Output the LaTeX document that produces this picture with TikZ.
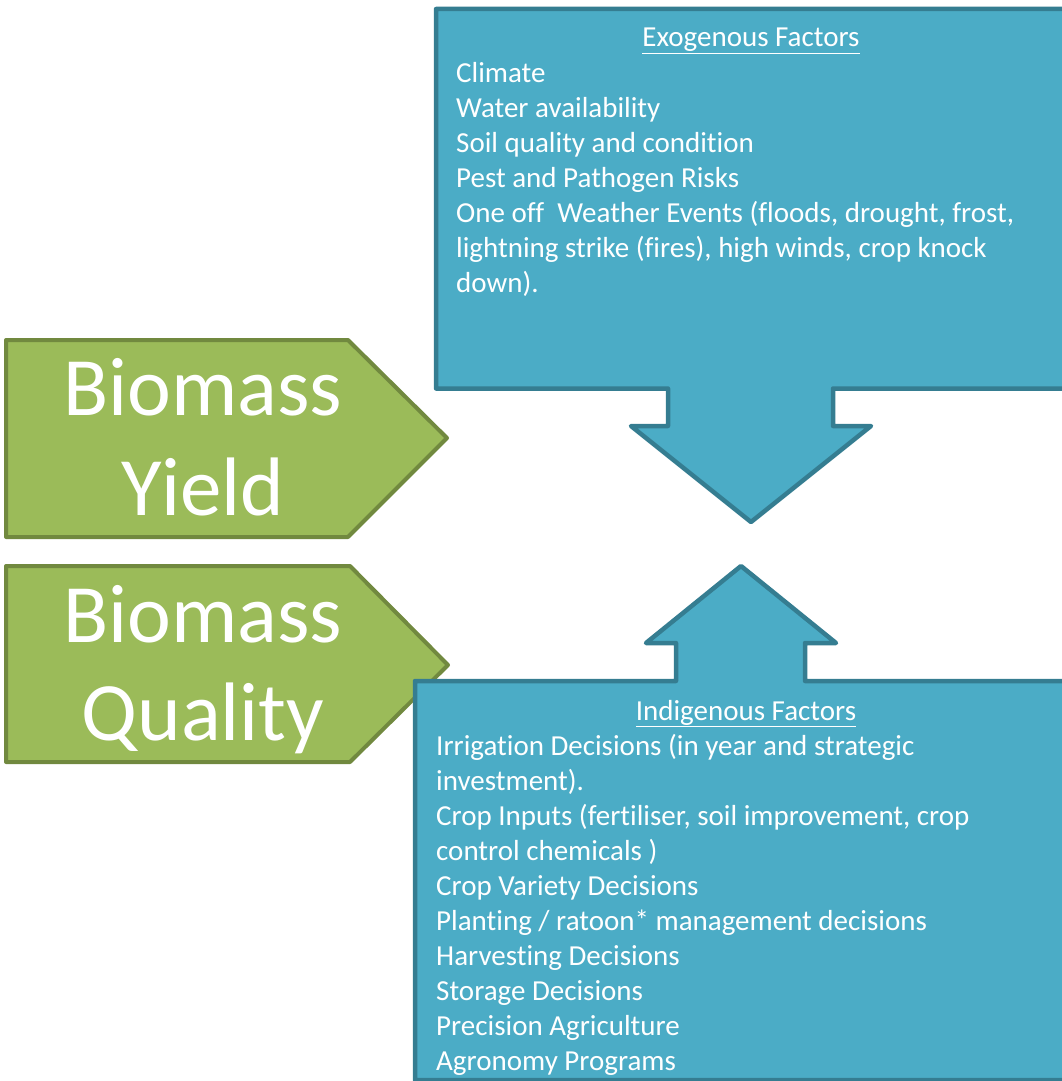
\documentclass[tikz,border=0pt]{standalone}
\usepackage{fontspec}
\setmainfont{Carlito}[Ligatures=NoCommon]
\definecolor{bluefill}{HTML}{4BACC6}
\definecolor{blueline}{HTML}{357D91}
\definecolor{greenfill}{HTML}{9BBB59}
\definecolor{greenline}{HTML}{71893F}
\tikzset{
  bluebox/.style={fill=bluefill, draw=blueline, line width=4.5pt, line join=round},
  greenbox/.style={fill=greenfill, draw=greenline, line width=4pt, line join=round},
  bigtext/.style={text=white, inner sep=0, anchor=base, font=\fontsize{83}{100}\selectfont},
  smalltext/.style={text=white, inner sep=0, anchor=base west, font=\fontsize{29}{35}\selectfont},
  headtext/.style={text=white, inner sep=0, anchor=base, font=\fontsize{29}{35}\selectfont},
}
\begin{document}
\begin{tikzpicture}[x=1pt, y=-1pt]
\useasboundingbox (0,0) rectangle (1062,1081);
\clip (0,0) rectangle (1062,1081);
% green labels
\draw[greenbox] (6,340) -- (348,340) -- (447,438) -- (348,537) -- (6,537) -- cycle;
\draw[greenbox] (6,566) -- (350,566) -- (448,665) -- (350,762) -- (6,762) -- cycle;
\node[bigtext] (y1) at (203,415) {Biomass};
\node[bigtext] (y2) at (203,515) {Yield};
\node[bigtext] (q1) at (203,642) {Biomass};
\node[bigtext] (q2) at (203,740) {Quality};
% top callout
\draw[bluebox] (436,9) -- (1075,9) -- (1075,388.5) -- (833,388.5) -- (833,426) -- (871,426)
  -- (751,522) -- (631,426) -- (668,426) -- (668,388.5) -- (436,388.5) -- cycle;
\node[headtext] (exoh) at (751,47) {\underline{Exogenous Factors}};
\foreach \t [count=\i] in {Climate, Water availability, Soil quality and condition,
  Pest and Pathogen Risks, {One off\ \ Weather Events (floods, drought, frost,},
  {lightning strike (fires), high winds, crop knock}, down).}
  \node[smalltext] (exo\i) at (456,{47+35*\i}) {\t};
% bottom callout
\draw[bluebox] (415,681) -- (676,681) -- (676,643) -- (646,643) -- (741,566) -- (836,643)
  -- (805,643) -- (805,681) -- (1075,681) -- (1075,1080) -- (415,1080) -- cycle;
\node[headtext] (indh) at (746,720) {\underline{Indigenous Factors}};
\foreach \t [count=\i] in {Irrigation Decisions (in year and strategic, investment).,
  {Crop Inputs (fertiliser, soil improvement, crop}, control chemicals ),
  Crop Variety Decisions, Planting / ratoon* management decisions,
  Harvesting Decisions, Storage Decisions, Precision Agriculture, Agronomy Programs}
  \node[smalltext] (ind\i) at (436,{720+35*\i}) {\t};
\end{tikzpicture}
\end{document}
